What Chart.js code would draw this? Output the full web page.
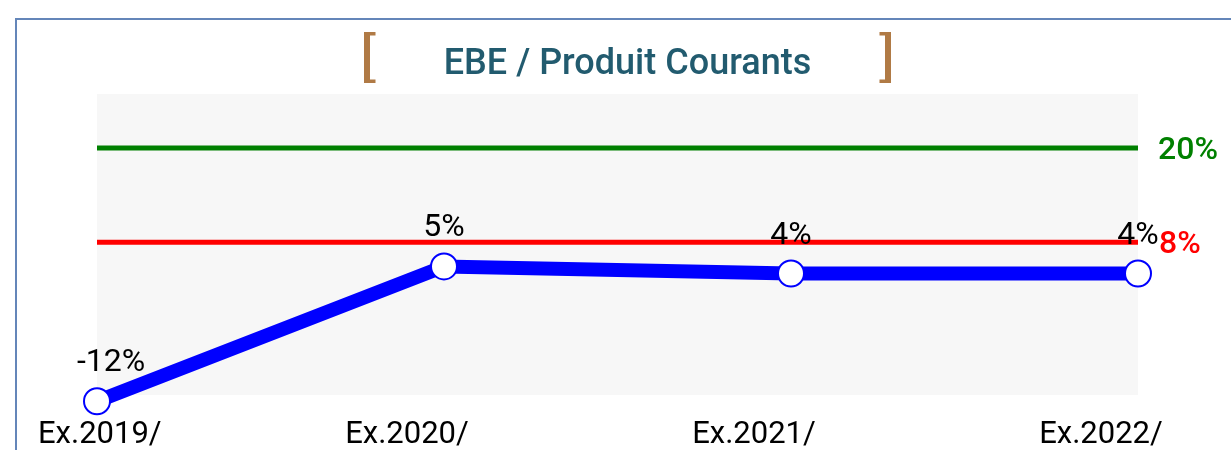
<!DOCTYPE html>
<html>
<head>
<meta charset="utf-8">
<script src="https://cdn.jsdelivr.net/npm/chart.js@4.4.0/dist/chart.umd.min.js"></script>
<style>
html, body { margin: 0; padding: 0; background: #fff; overflow: hidden; }
#wrap { position: relative; width: 1231px; height: 450px; overflow: hidden; }
#frame { position: absolute; left: 15px; top: 18px; width: 1400px; height: 600px;
  border-left: 2px solid #6486b9; border-top: 2px solid #6486b9; }
#chart { position: absolute; left: 0; top: 0; }
</style>
</head>
<body>
<div id="wrap"><div id="frame"></div><canvas id="chart" width="1231" height="450"></canvas></div>
<script>
// donnees
var exercices = ["Ex.2019/", "Ex.2020/", "Ex.2021/", "Ex.2022/"];
var ratioEbe = [-12.3, 4.9, 4.0, 4.0];
var seuilHaut = [20, 20, 20, 20];
var seuilBas = [8, 8, 8, 8];
var seuilTextes = ["20%", "8%"];
var titre = "EBE / Produit Courants";

var FONT = "Roboto, 'Noto Sans', sans-serif";

var decor = {
  id: "decor",
  beforeDraw: function(chart) {
    var ctx = chart.ctx, a = chart.chartArea;
    ctx.save();
    ctx.fillStyle = "#f7f7f7";
    ctx.fillRect(a.left, a.top, a.right - a.left, a.bottom - a.top);
    ctx.restore();
  },
  afterDraw: function(chart) {
    var ctx = chart.ctx, a = chart.chartArea;
    var xs = chart.scales.x;
    ctx.save();

    // titre + crochets
    ctx.fillStyle = "#225b6f";
    ctx.font = "500 36px " + FONT;
    ctx.textAlign = "center";
    ctx.textBaseline = "alphabetic";
    ctx.fillText(titre, 627.5, 73.5);
    ctx.fillStyle = "#b07a45";
    ctx.fillRect(364, 32, 6, 51);
    ctx.fillRect(364, 32, 11.5, 3.5);
    ctx.fillRect(364, 79.5, 11.5, 3.5);
    ctx.fillRect(885, 32, 6, 51);
    ctx.fillRect(879.5, 32, 11.5, 3.5);
    ctx.fillRect(879.5, 79.5, 11.5, 3.5);

    // etiquettes des seuils
    ctx.font = "500 32px " + FONT;
    ctx.textAlign = "left";
    var metaH = chart.getDatasetMeta(1), metaB = chart.getDatasetMeta(2);
    ctx.fillStyle = "#008000";
    ctx.fillText(seuilTextes[0], a.right + 20, metaH.data[metaH.data.length - 1].y + 11);
    ctx.fillStyle = "#ff0000";
    ctx.fillText(seuilTextes[1], a.right + 21, metaB.data[metaB.data.length - 1].y + 11);

    // valeurs
    ctx.font = "32px " + FONT;
    ctx.fillStyle = "#000";
    ctx.textAlign = "center";
    var meta = chart.getDatasetMeta(0);
    meta.data.forEach(function(pt, i) {
      var txt = Math.round(ratioEbe[i]) + "%";
      var w = ctx.measureText(txt).width;
      var x = Math.max(pt.x, a.left - 20 + w / 2);
      ctx.fillText(txt, x, pt.y - 30);
    });

    // axe x
    ctx.font = "31px " + FONT;
    exercices.forEach(function(lab, i) {
      var w = ctx.measureText(lab).width;
      var x = Math.max(xs.getPixelForValue(i) - 37, 38 + w / 2);
      ctx.fillText(lab, x, a.bottom + 48);
    });
    ctx.restore();
  }
};

new Chart(document.getElementById("chart"), {
  type: "line",
  data: {
    labels: exercices,
    datasets: [{
      data: ratioEbe,
      borderColor: "#0000ff",
      borderWidth: 14,
      pointRadius: 13,
      pointHoverRadius: 13,
      pointBorderWidth: 2,
      pointBorderColor: "#0000ff",
      pointBackgroundColor: "#ffffff",
      clip: false
    }, {
      data: seuilHaut,
      borderColor: "#008000",
      borderWidth: 5,
      pointRadius: 0
    }, {
      data: seuilBas,
      borderColor: "#ff0000",
      borderWidth: 5,
      pointRadius: 0
    }]
  },
  options: {
    responsive: false,
    animation: false,
    devicePixelRatio: 1,
    layout: { padding: { left: 97, right: 93, top: 94, bottom: 55 } },
    plugins: { legend: { display: false }, tooltip: { enabled: false }, title: { display: false } },
    scales: {
      x: { display: false, offset: false },
      y: { display: false, min: -11.5, max: 26.9 }
    }
  },
  plugins: [decor]
});
</script>
</body>
</html>
